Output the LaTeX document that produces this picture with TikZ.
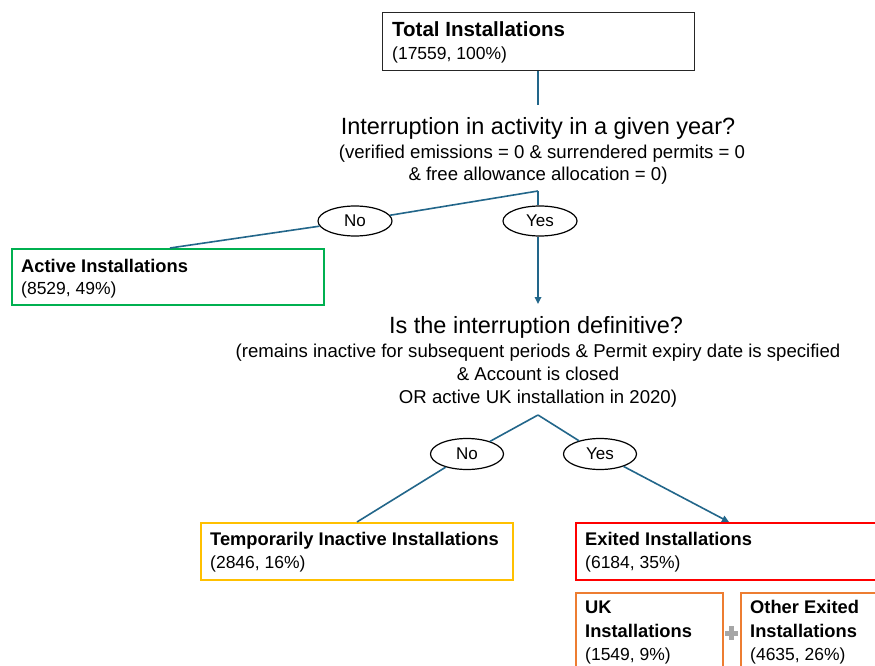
\documentclass[tikz,border=0pt]{standalone}
\usepackage{fontspec}
\setmainfont{Liberation Sans}
\usetikzlibrary{shapes.geometric,arrows.meta}
\definecolor{lnc}{RGB}{34,102,138}
\definecolor{cgreen}{RGB}{0,176,80}
\definecolor{cyellow}{RGB}{255,192,0}
\definecolor{cred}{RGB}{255,0,0}
\definecolor{corange}{RGB}{237,125,49}
\definecolor{cplus}{RGB}{166,166,166}
\newcommand\fbig{\fontsize{20.5}{24}\selectfont\bfseries}
\newcommand\fb{\fontsize{18.3}{22}\selectfont\bfseries}
\newcommand\fr{\fontsize{17.5}{21}\selectfont}
\newcommand\fq{\fontsize{23.5}{28}\selectfont}
\newcommand\fs{\fontsize{18.6}{22}\selectfont}
\newcommand\fe{\fontsize{17}{20}\selectfont}
\tikzset{
  box/.style={draw, line width=1.6pt, rectangle, anchor=north west, inner sep=0pt},
  txt/.style={anchor=base west, inner sep=0pt},
  ctr/.style={anchor=base, inner sep=0pt},
  oval/.style={draw, line width=1.2pt, ellipse, inner sep=0pt, minimum width=74pt, minimum height=30pt, fill=white},
  conn/.style={draw=lnc, line width=1.6pt},
  arr/.style={conn, -{Triangle[length=7pt,width=6.5pt]}}
}
\begin{document}
\begin{tikzpicture}[x=1pt,y=-1pt]
\useasboundingbox (0,0) rectangle (875,666);
\clip (0,0) rectangle (875,666);
\fill[white] (0,0) rectangle (875,666);

% boxes
\node[box, draw=black!85, line width=1.3pt, minimum width=312pt, minimum height=58pt] (total) at (382,12) {};
\node[box, draw=cgreen, minimum width=312pt, minimum height=56pt] (active) at (11,248) {};
\node[box, draw=cyellow, minimum width=312pt, minimum height=57pt] (temp) at (200,522) {};
\node[box, draw=cred, minimum width=330pt, minimum height=57pt] (exited) at (575,522) {};
\node[box, draw=corange, minimum width=147pt, minimum height=90pt] (uk) at (575,592) {};
\node[box, draw=corange, minimum width=160pt, minimum height=90pt] (other) at (740,592) {};

% box texts
\node[txt] (totalA) at (392,37) {\fbig Total Installations};
\node[txt] (totalB) at (392,60) {\fr (17559, 100\%)};
\node[txt] (activeA) at (21,272) {\fb Active Installations};
\node[txt] (activeB) at (21,294) {\fr (8529, 49\%)};
\node[txt] (tempA) at (210,545) {\fb Temporarily Inactive Installations};
\node[txt] (tempB) at (210,568) {\fr (2846, 16\%)};
\node[txt] (exitedA) at (585,545) {\fb Exited Installations};
\node[txt] (exitedB) at (585,568) {\fr (6184, 35\%)};
\node[txt] (ukA) at (585,613) {\fb UK};
\node[txt] (ukB) at (585,637) {\fb Installations};
\node[txt] (ukC) at (585,660) {\fr (1549, 9\%)};
\node[txt] (otherA) at (750,613) {\fb Other Exited};
\node[txt] (otherB) at (750,637) {\fb Installations};
\node[txt] (otherC) at (750,660) {\fr (4635, 26\%)};

% plus sign
\fill[cplus] (728.5,626) rectangle (733.5,640);
\fill[cplus] (724.5,630.5) rectangle (737.5,635.5);

% questions
\node[ctr] (q1a) at (538,135) {\fq Interruption in activity in a given year?};
\node[ctr] (q1b) at (542,158) {\fs (verified emissions = 0 \& surrendered permits = 0};
\node[ctr] (q1c) at (538,180) {\fs \& free allowance allocation = 0)};
\node[ctr] (q2a) at (536,333) {\fq Is the interruption definitive?};
\node[ctr] (q2b) at (538,357) {\fs (remains inactive for subsequent periods \& Permit expiry date is specified};
\node[ctr] (q2c) at (538,380) {\fs \& Account is closed};
\node[ctr] (q2d) at (538,403) {\fs OR active UK installation in 2020)};

% junction coordinates
\coordinate (q1top) at (538,105);
\coordinate (j1) at (538,191);
\coordinate (a1) at (170,248);
\coordinate (q2top) at (538,304);
\coordinate (j2) at (538,415);
\coordinate (t1) at (357,522);
\coordinate (e1) at (729,522);

% ovals
\node[oval] (no1) at (355,221) {\fe No};
\node[oval] (yes1) at (540,221) {\fe Yes};
\node[oval, minimum width=73pt, minimum height=31pt] (no2) at (467,454) {\fe No};
\node[oval, minimum width=73pt, minimum height=31pt] (yes2) at (600,454) {\fe Yes};

% connectors
\draw[conn] (total.south -| q1top) -- (q1top);
\draw[conn] (j1) -- (no1);
\draw[conn] (j1) -- (j1 |- yes1.north);
\draw[conn] (no1) -- (a1);
\draw[arr] (yes1.south -| q2top) -- (q2top);
\draw[conn] (j2) -- (no2);
\draw[conn] (j2) -- (yes2);
\draw[conn] (no2) -- (t1);
\draw[arr] (yes2) -- (e1);
\end{tikzpicture}
\end{document}
